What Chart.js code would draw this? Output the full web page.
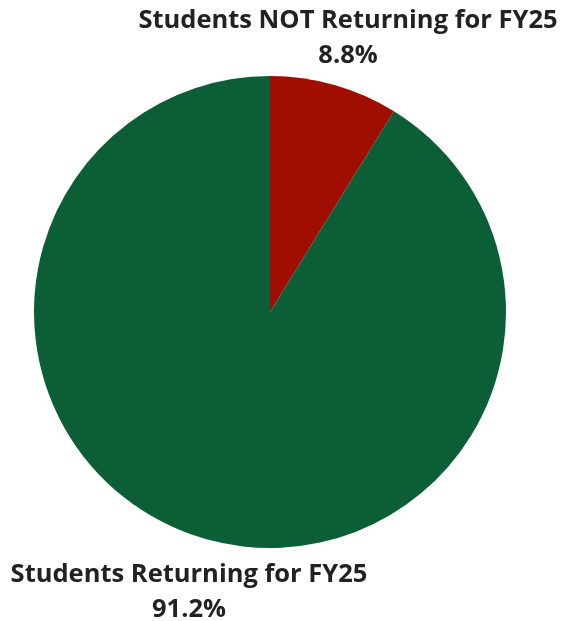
<!DOCTYPE html>
<html>
<head>
<meta charset="utf-8">
<script src="https://cdn.jsdelivr.net/npm/chart.js@4"></script>
<style>
  html, body { margin: 0; padding: 0; background: #fff; }
  #wrap { width: 566px; height: 621px; }
</style>
</head>
<body>
<div id="wrap"><canvas id="pieChart" width="566" height="621"></canvas></div>
<script>
const categories = ['Students NOT Returning for FY25', 'Students Returning for FY25'];
const shares = [8.8, 91.2];
const sliceColors = ['#a00e02', '#0b5e36'];

// label text anchors (centre x, first line baseline y)
const labelSpots = [
    { x: 348, y: 28 },
    { x: 189, y: 582 }
];

const outerLabels = {
    id: 'outerLabels',
    afterDraw(chart) {
        const ctx = chart.ctx;
        ctx.save();
        ctx.fillStyle = '#222222';
        ctx.textAlign = 'center';
        ctx.textBaseline = 'alphabetic';
        ctx.font = '700 25.5px "Open Sans", sans-serif';
        categories.forEach((name, i) => {
            const spot = labelSpots[i];
            ctx.fillText(name, spot.x, spot.y);
            ctx.fillText(shares[i].toFixed(1) + '%', spot.x, spot.y + 35);
        });
        ctx.restore();
    }
};

const ctx = document.getElementById('pieChart').getContext('2d');
new Chart(ctx, {
    type: 'pie',
    data: {
        labels: categories,
        datasets: [{
            data: shares,
            backgroundColor: sliceColors,
            borderWidth: 0
        }]
    },
    options: {
        responsive: false,
        animation: false,
        layout: {
            padding: { left: 34, right: 60, top: 76, bottom: 73 }
        },
        plugins: {
            legend: { display: false },
            tooltip: { enabled: false }
        }
    },
    plugins: [outerLabels]
});
</script>
</body>
</html>
